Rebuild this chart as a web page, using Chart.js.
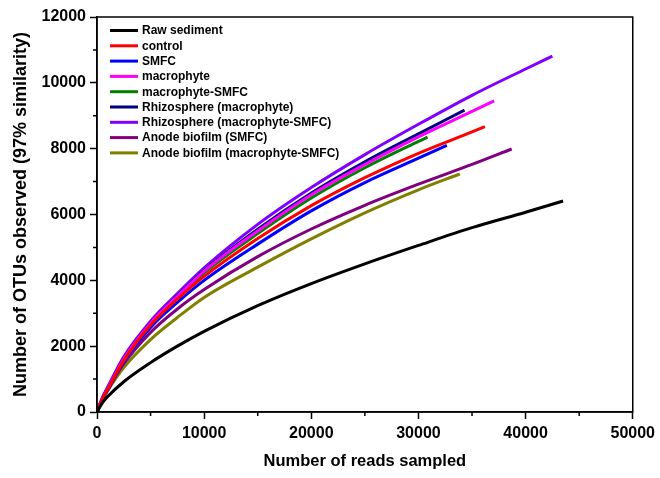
<!DOCTYPE html>
<html>
<head>
<meta charset="utf-8">
<script src="https://cdn.jsdelivr.net/npm/chart.js@4.4.1/dist/chart.umd.min.js"></script>
<style>
  html, body { margin: 0; padding: 0; background: #fff; }
  #wrap { width: 660px; height: 478px; }
</style>
</head>
<body>
<div id="wrap"><canvas id="chart"></canvas></div>
<script>
// rarefaction curves, values
var seriesNames = [
    'Raw sediment',
    'control',
    'SMFC',
    'macrophyte',
    'macrophyte-SMFC',
    'Rhizosphere (macrophyte)',
    'Rhizosphere (macrophyte-SMFC)',
    'Anode biofilm (SMFC)',
    'Anode biofilm (macrophyte-SMFC)'
];
var seriesColors = ['#000000', '#ff0000', '#0000ff', '#ff00ff', '#008000', '#000080', '#8000ff', '#800080', '#808000'];

var rawX = [0, 500, 1000, 2500, 5000, 7500, 10000, 15000, 20000, 25000, 30000, 35000, 40000, 43500];
var rawY = [0, 280, 470, 920, 1500, 2000, 2450, 3230, 3900, 4500, 5060, 5600, 6070, 6410];

var controlX = [0, 500, 1000, 2500, 5000, 7500, 10000, 15000, 20000, 25000, 30000, 35000, 36200];
var controlY = [0, 390, 680, 1560, 2640, 3430, 4120, 5270, 6270, 7120, 7860, 8510, 8670];

var smfcX = [0, 500, 1000, 2500, 5000, 7500, 10000, 15000, 20000, 25000, 30000, 32650];
var smfcY = [0, 380, 660, 1520, 2570, 3330, 4000, 5100, 6110, 6970, 7710, 8100];

var macroX = [0, 500, 1000, 2500, 5000, 7500, 10000, 15000, 20000, 25000, 30000, 35000, 37060];
var macroY = [0, 410, 710, 1620, 2700, 3510, 4280, 5500, 6600, 7520, 8360, 9130, 9450];

var macroSmfcX = [0, 500, 1000, 2500, 5000, 7500, 10000, 15000, 20000, 25000, 30000, 30850];
var macroSmfcY = [0, 400, 700, 1600, 2670, 3480, 4230, 5420, 6500, 7420, 8220, 8350];

var rhizoMacroX = [0, 500, 1000, 2500, 5000, 7500, 10000, 15000, 20000, 25000, 30000, 34300];
var rhizoMacroY = [0, 410, 720, 1630, 2710, 3530, 4300, 5550, 6650, 7600, 8450, 9170];

var rhizoMacroSmfcX = [0, 500, 1000, 2500, 5000, 7500, 10000, 15000, 20000, 25000, 30000, 35000, 40000, 42500];
var rhizoMacroSmfcY = [0, 440, 760, 1680, 2760, 3600, 4380, 5700, 6820, 7820, 8740, 9620, 10420, 10810];

var anodeSmfcX = [0, 500, 1000, 2500, 5000, 7500, 10000, 15000, 20000, 25000, 30000, 35000, 38700];
var anodeSmfcY = [0, 400, 700, 1470, 2420, 3130, 3720, 4720, 5560, 6280, 6920, 7520, 7990];

var anodeMacroSmfcX = [0, 500, 1000, 2500, 5000, 7500, 10000, 15000, 20000, 25000, 30000, 33860];
var anodeMacroSmfcY = [0, 370, 650, 1350, 2200, 2870, 3480, 4400, 5260, 6050, 6750, 7230];

var xTicks = [0, 10000, 20000, 30000, 40000, 50000];
var yTicks = [0, 2000, 4000, 6000, 8000, 10000, 12000];

var seriesX = [rawX, controlX, smfcX, macroX, macroSmfcX, rhizoMacroX, rhizoMacroSmfcX, anodeSmfcX, anodeMacroSmfcX];
var seriesY = [rawY, controlY, smfcY, macroY, macroSmfcY, rhizoMacroY, rhizoMacroSmfcY, anodeSmfcY, anodeMacroSmfcY];

var FONT = '"Liberation Sans", Arial, sans-serif';

function toPoints(xs, ys) {
    var pts = [];
    for (var i = 0; i < xs.length; i++) {
        pts.push({ x: xs[i], y: ys[i] });
    }
    return pts;
}

var datasets = seriesNames.map(function(name, i) {
    return {
        label: name,
        data: toPoints(seriesX[i], seriesY[i]),
        borderColor: seriesColors[i],
        backgroundColor: seriesColors[i],
        borderWidth: 3,
        pointRadius: 0,
        cubicInterpolationMode: 'monotone',
        fill: false
    };
});

// box around the plot, minor ticks and the legend inside the plot area
var extrasPlugin = {
    id: 'extras',
    afterDraw: function(chart) {
        var ctx = chart.ctx;
        var a = chart.chartArea;
        var xs = chart.scales.x;
        var ys = chart.scales.y;
        ctx.save();
        ctx.strokeStyle = '#000';
        ctx.lineWidth = 1.5;
        ctx.strokeRect(a.left, a.top, a.right - a.left, a.bottom - a.top);

        ctx.beginPath();
        for (var v = 1000; v < 12000; v += 2000) {
            var py = ys.getPixelForValue(v);
            ctx.moveTo(a.left, py);
            ctx.lineTo(a.left - 4, py);
        }
        for (var w = 5000; w < 50000; w += 10000) {
            var px = xs.getPixelForValue(w);
            ctx.moveTo(px, a.bottom);
            ctx.lineTo(px, a.bottom + 4);
        }
        ctx.stroke();

        ctx.font = 'bold 12px ' + FONT;
        ctx.textBaseline = 'middle';
        ctx.textAlign = 'left';
        chart.data.datasets.forEach(function(ds, i) {
            var y = 30.5 + i * 15.3;
            ctx.strokeStyle = ds.borderColor;
            ctx.lineWidth = 3;
            ctx.beginPath();
            ctx.moveTo(110, y);
            ctx.lineTo(138, y);
            ctx.stroke();
            ctx.fillStyle = '#000';
            ctx.fillText(ds.label, 142, y + 0.5);
        });
        ctx.restore();
    }
};

var ctx = document.getElementById('chart').getContext('2d');
var chart = new Chart(ctx, {
    type: 'line',
    data: { datasets: datasets },
    options: {
        responsive: true,
        maintainAspectRatio: false,
        animation: false,
        layout: { padding: { top: 17, right: 25, left: 0, bottom: 0 } },
        plugins: {
            legend: { display: false },
            tooltip: { enabled: false }
        },
        scales: {
            x: {
                type: 'linear',
                min: 0,
                max: 50000,
                afterBuildTicks: function(s) { s.ticks = xTicks.map(function(v) { return { value: v }; }); },
                afterFit: function(s) { s.height = 66; },
                grid: { drawOnChartArea: false, tickLength: 7, tickColor: '#000', tickWidth: 1.5 },
                border: { color: '#000', width: 1.5 },
                ticks: {
                    color: '#000',
                    padding: 5,
                    maxRotation: 0,
                    autoSkip: false,
                    font: { family: FONT, size: 16, weight: 'bold' },
                    callback: function(v) { return String(v); }
                },
                title: {
                    display: true,
                    text: 'Number of reads sampled',
                    color: '#000',
                    font: { family: FONT, size: 16.5, weight: 'bold' },
                    padding: { top: 0, bottom: 7 }
                }
            },
            y: {
                type: 'linear',
                min: 0,
                max: 12000,
                afterBuildTicks: function(s) { s.ticks = yTicks.map(function(v) { return { value: v }; }); },
                afterFit: function(s) { s.width = 97; },
                grid: { drawOnChartArea: false, tickLength: 7, tickColor: '#000', tickWidth: 1.5 },
                border: { color: '#000', width: 1.5 },
                ticks: {
                    color: '#000',
                    padding: 4,
                    autoSkip: false,
                    font: { family: FONT, size: 16, weight: 'bold' },
                    callback: function(v) { return String(v); }
                },
                title: {
                    display: true,
                    text: 'Number of OTUs observed (97% similarity)',
                    color: '#000',
                    font: { family: FONT, size: 18, weight: 'bold' },
                    padding: { top: 10, bottom: 0 }
                }
            }
        }
    },
    plugins: [extrasPlugin]
});
</script>
</body>
</html>
